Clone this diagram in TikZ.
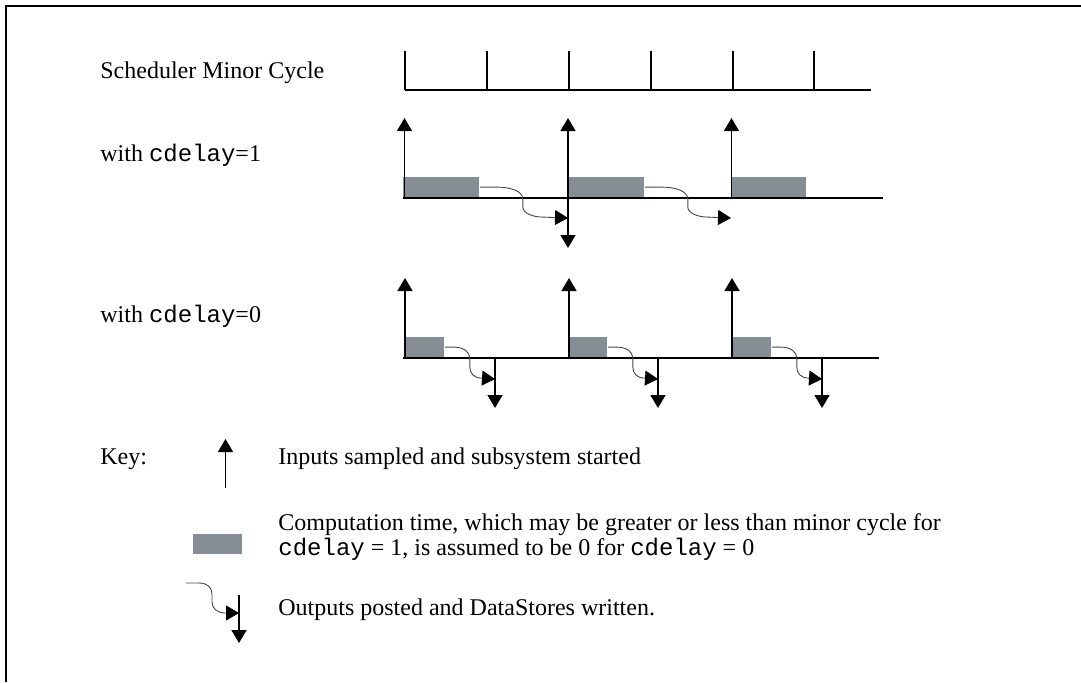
\documentclass[tikz,border=0pt]{standalone}
\usepackage{fontspec}
\setmainfont{Liberation Serif}
\setmonofont{Liberation Mono}
\usetikzlibrary{arrows.meta}
\definecolor{boxgray}{RGB}{134,141,148}
\definecolor{curvegray}{RGB}{70,70,70}
\begin{document}
\begin{tikzpicture}[x=0.5pt,y=-0.5pt,
  frame/.style={line width=1pt},
  axisline/.style={line width=0.75pt},
  uparrow/.style={line width=0.75pt,-{Triangle[width=7.5pt,length=6.5pt]}},
  outcurve/.style={line width=0.45pt,draw=curvegray,-{Triangle[width=7.5pt,length=6.5pt,color=black]}},
  compbox/.style={fill=boxgray,draw=none,inner sep=0pt,minimum height=10.5pt,anchor=south west},
  lbl/.style={anchor=base west,inner sep=0pt,font=\fontsize{12}{14}\selectfont}]
\useasboundingbox (0,0) rectangle (1081,682);
% frame (only top and left edges visible)
\draw[frame] (1081,6) -- (6,6) -- (6,682);

% labels
\node[lbl] (tsched) at (100,78) {Scheduler Minor Cycle};
\node[lbl] (tone) at (100,161) {with \texttt{cdelay}=1};
\node[lbl] (tzero) at (100,322) {with \texttt{cdelay}=0};

% scheduler minor cycle
\draw[axisline] (405,90) -- (871,90);
\foreach \x in {405,487,569,651,733,814} \draw[axisline] (\x,51) -- (\x,90);

% ---- row cdelay=1 ----
\coordinate (r1a) at (403,198);
\coordinate (r1b) at (883,198);
\node[compbox,minimum width=38pt] (b11) at (403,198) {};
\node[compbox,minimum width=38pt] (b12) at (568,198) {};
\node[compbox,minimum width=37.5pt] (b13) at (731,198) {};
\draw[axisline] (r1a) -- (r1b);
\coordinate (u11b) at (404.5,198); \coordinate (u11t) at (404.5,118);
\coordinate (u12b) at (568,198);   \coordinate (u12t) at (568,118);
\coordinate (u13b) at (731.5,198); \coordinate (u13t) at (731.5,118);
\draw[uparrow] (u11b) -- (u11t);
\draw[uparrow] (u12b) -- (u12t);
\draw[uparrow] (u13b) -- (u13t);
\coordinate (d11t) at (568,248);
\draw[uparrow] (u12b) -- (d11t);
\coordinate (o11) at (568,218);
\coordinate (o12) at (731,218);
\draw[outcurve] (b11.east) -- ++(17,0) .. controls +(14,0) and +(0,-8) .. ++(26,12) -- ++(0,8) .. controls +(0,6) and +(-10,0) .. ++(20,10) -- (o11);
\draw[outcurve] (b12.east) -- ++(17,0) .. controls +(14,0) and +(0,-8) .. ++(26,12) -- ++(0,8) .. controls +(0,6) and +(-10,0) .. ++(20,10) -- (o12);

% ---- row cdelay=0 ----
\coordinate (r2a) at (403,358);
\coordinate (r2b) at (879,358);
\node[compbox,minimum width=20pt] (b21) at (404,358) {};
\node[compbox,minimum width=19pt] (b22) at (569,358) {};
\node[compbox,minimum width=19.5pt] (b23) at (732,358) {};
\draw[axisline] (r2a) -- (r2b);
\coordinate (u21b) at (405,358); \coordinate (u21t) at (405,278);
\coordinate (u22b) at (569,358); \coordinate (u22t) at (569,278);
\coordinate (u23b) at (732,358); \coordinate (u23t) at (732,278);
\draw[uparrow] (u21b) -- (u21t);
\draw[uparrow] (u22b) -- (u22t);
\draw[uparrow] (u23b) -- (u23t);
\coordinate (d21b) at (495,358); \coordinate (d21t) at (495,408);
\coordinate (d22b) at (658,358); \coordinate (d22t) at (658,408);
\coordinate (d23b) at (822,358); \coordinate (d23t) at (822,408);
\draw[uparrow] (d21b) -- (d21t);
\draw[uparrow] (d22b) -- (d22t);
\draw[uparrow] (d23b) -- (d23t);
\coordinate (o21) at (495,379);
\coordinate (o22) at (658,379);
\coordinate (o23) at (822,379);
\draw[outcurve] (b21.east) -- ++(9,0) .. controls +(10,0) and +(0,-6) .. ++(16,11) -- ++(0,9) .. controls +(0,6) and +(-8,0) .. ++(12,11) -- (o21);
\draw[outcurve] (b22.east) -- ++(9,0) .. controls +(10,0) and +(0,-6) .. ++(16,11) -- ++(0,9) .. controls +(0,6) and +(-8,0) .. ++(12,11) -- (o22);
\draw[outcurve] (b23.east) -- ++(9,0) .. controls +(10,0) and +(0,-6) .. ++(16,11) -- ++(0,9) .. controls +(0,6) and +(-8,0) .. ++(12,11) -- (o23);

% ---- key ----
\node[lbl] (tkey) at (100,464) {Key:};
\coordinate (ku b) at (225.5,488); \coordinate (ku t) at (225.5,439);
\draw[uparrow] (ku b) -- (ku t);
\node[lbl] (tin) at (278,464) {Inputs sampled and subsystem started};
\node[compbox,minimum width=24.5pt,minimum height=10pt] (kbox) at (193,554) {};
\node[lbl] (tcomp1) at (278,530) {Computation time, which may be greater or less than minor cycle for};
\node[lbl] (tcomp2) at (278,555) {\texttt{cdelay} = 1, is assumed to be 0 for \texttt{cdelay} = 0};
\coordinate (kcs) at (186,583);
\coordinate (kdb) at (239,595); \coordinate (kdt) at (239,643);
\coordinate (ko) at (239,613);
\draw[uparrow] (kdb) -- (kdt);
\draw[outcurve] (kcs) -- ++(13,0) .. controls +(9,0) and +(0,-6) .. ++(13,11) -- ++(0,8) .. controls +(0,6) and +(-8,0) .. ++(13,11) -- (ko);
\node[lbl] (tout) at (278,615) {Outputs posted and DataStores written.};
\end{tikzpicture}
\end{document}
